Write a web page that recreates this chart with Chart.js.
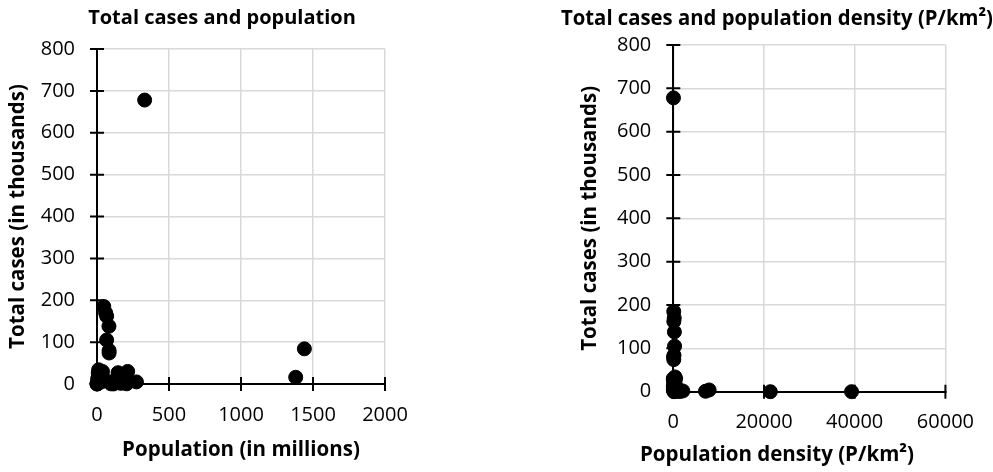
<!DOCTYPE html>
<html>
<head>
<meta charset="utf-8">
<script src="https://cdn.jsdelivr.net/npm/chart.js@4/dist/chart.umd.min.js"></script>
<style>
  html, body { margin: 0; padding: 0; background: #fff; }
  #left { position: absolute; left: 0; top: 0; }
  #right { position: absolute; left: 561px; top: 0; }
</style>
</head>
<body>
<canvas id="left" width="444" height="472"></canvas>
<canvas id="right" width="432" height="472"></canvas>
<script>
/* ---------- data ---------- */
const countries = ["USA", "Spain", "Italy", "France", "Germany", "UK", "Iran", "Turkey", "China", "India",
  "Belgium", "Netherlands", "Canada", "Brazil", "Russia", "Switzerland", "Portugal", "Austria", "Ireland", "Israel",
  "Sweden", "Peru", "South Korea", "Japan", "Chile", "Ecuador", "Poland", "Romania", "Pakistan", "Mexico",
  "Saudi Arabia", "Denmark", "Indonesia", "Philippines", "Singapore", "Hong Kong", "Bahrain", "Malta", "Bangladesh", "Egypt",
  "Nigeria", "Ethiopia", "Vietnam", "Macau", "Monaco"];

// population, millions
const population = [331, 47, 60, 67, 83, 67, 84, 84, 1440, 1380,
  11.5, 17, 38, 213, 146, 8.7, 10, 9, 5, 9,
  10, 33, 51, 126, 19, 18, 38, 19, 221, 129,
  35, 6, 274, 110, 5.9, 7.5, 1.7, 0.44, 165, 102,
  206, 115, 97, 0.65, 0.04];

// population density, P/km2
const density = [36, 94, 206, 119, 240, 281, 52, 110, 153, 464,
  383, 508, 4, 25, 9, 219, 111, 109, 72, 400,
  25, 26, 527, 347, 26, 71, 124, 84, 287, 66,
  16, 137, 151, 368, 7900, 7100, 2100, 1380, 1265, 103,
  226, 115, 314, 21400, 39300];

// total cases, thousands
const cases = [678, 185, 170, 162, 138, 105, 80, 74, 84, 16,
  34, 30, 30, 30, 27, 26, 19, 14, 13, 12,
  12, 12, 11, 9, 8, 8, 7, 7, 6, 6,
  6, 7, 5, 5, 4, 1, 1.7, 0.4, 1.6, 2.6,
  0.4, 0.1, 0.3, 0.05, 0.09];

const casesTicks = [0, 100, 200, 300, 400, 500, 600, 700, 800];
const popTicks = [0, 500, 1000, 1500, 2000];
const densityTicks = [0, 20000, 40000, 60000];

/* ---------- shared styling ---------- */
const FONT = "'Open Sans', 'Noto Sans', sans-serif";

// Excel-like tick marks that cross the axis lines
const crossTicks = {
  id: "crossTicks",
  beforeDatasetsDraw(chart) {
    const { ctx, scales: { x, y } } = chart;
    const x0 = x.getPixelForValue(0);
    const y0 = y.getPixelForValue(0);
    ctx.save();
    ctx.strokeStyle = "#000";
    ctx.lineWidth = 2;
    ctx.beginPath();
    x.ticks.forEach(t => {
      const px = x.getPixelForValue(t.value);
      ctx.moveTo(px, y0 - 7);
      ctx.lineTo(px, y0 + 7);
    });
    y.ticks.forEach(t => {
      const py = y.getPixelForValue(t.value);
      ctx.moveTo(x0 - 7, py);
      ctx.lineTo(x0 + 7, py);
    });
    ctx.stroke();
    ctx.restore();
  }
};

function makeChart(id, xValues, xTicks, cfg) {
  const points = xValues.map((v, i) => ({ x: v, y: cases[i] }));

  return new Chart(document.getElementById(id), {
    type: "scatter",
    data: {
      datasets: [{
        label: "Total cases",
        data: points,
        backgroundColor: "#000",
        borderColor: "#000",
        pointRadius: 7,
        pointHoverRadius: 7,
        clip: false
      }]
    },
    options: {
      responsive: false,
      animation: false,
      events: [],
      layout: { padding: 0 },
      plugins: {
        legend: { display: false },
        tooltip: { enabled: false },
        title: {
          display: true,
          text: cfg.title,
          color: "#000",
          font: { family: FONT, size: cfg.titleSize, weight: "bold" },
          padding: { top: cfg.titleTop, bottom: cfg.titleGap }
        },
        subtitle: {
          display: !!cfg.bottomTitle,
          position: "bottom",
          text: cfg.bottomTitle || "",
          color: "#000",
          font: { family: FONT, size: 20.5, weight: "bold" },
          padding: { top: 0, bottom: 4.7 }
        }
      },
      scales: {
        x: {
          type: "linear",
          min: xTicks[0],
          max: xTicks[xTicks.length - 1],
          afterBuildTicks: s => { s.ticks = xTicks.map(v => ({ value: v })); },
          afterFit: s => { s.height = cfg.xHeight; },
          grid: { color: "#d9d9d9", lineWidth: 1.5, drawTicks: false },
          border: { color: "#000", width: 2 },
          ticks: {
            color: "#000",
            padding: cfg.xTickPad,
            maxRotation: 0,
            font: { family: FONT, size: 20 },
            callback: v => String(v)
          },
          title: {
            display: !!cfg.xTitle,
            text: cfg.xTitle || "",
            color: "#000",
            font: { family: FONT, size: 20.5, weight: "bold" },
            padding: { top: 0, bottom: 9.7 }
          }
        },
        y: {
          type: "linear",
          min: 0,
          max: 800,
          afterBuildTicks: s => { s.ticks = casesTicks.map(v => ({ value: v })); },
          afterFit: s => { s.width = cfg.yWidth; },
          grid: { color: "#d9d9d9", lineWidth: 1.5, drawTicks: false },
          border: { color: "#000", width: 2 },
          ticks: {
            color: "#000",
            padding: 22,
            font: { family: FONT, size: 20 },
            callback: v => String(v)
          },
          title: {
            display: true,
            text: "Total cases (in thousands)",
            color: "#000",
            font: { family: FONT, size: 20.5, weight: "bold" },
            padding: { top: cfg.yTitlePad, bottom: 0 }
          }
        },
        // empty right-hand strip so the titles stay centred on the whole chart
        spacer: {
          type: "linear",
          position: "right",
          display: true,
          grid: { display: false },
          border: { display: false },
          ticks: { display: false },
          afterFit: s => { s.width = cfg.padRight; }
        }
      }
    },
    plugins: [crossTicks]
  });
}

makeChart("left", population, popTicks, {
  title: "Total cases and population",
  titleSize: 20,
  titleTop: 6,
  titleGap: 19,
  xTitle: "Population (in millions)",
  xHeight: 88,
  xTickPad: 19,
  yWidth: 97,
  yTitlePad: 5.7,
  padRight: 59
});

makeChart("right", density, densityTicks, {
  title: "Total cases and population density (P/km²)",
  titleSize: 21.5,
  titleTop: 6.1,
  titleGap: 13.1,
  bottomTitle: "Population density (P/km²)",
  xHeight: 51,
  xTickPad: 19,
  yWidth: 112.3,
  yTitlePad: 16.7,
  padRight: 39.7
});
</script>
</body>
</html>
